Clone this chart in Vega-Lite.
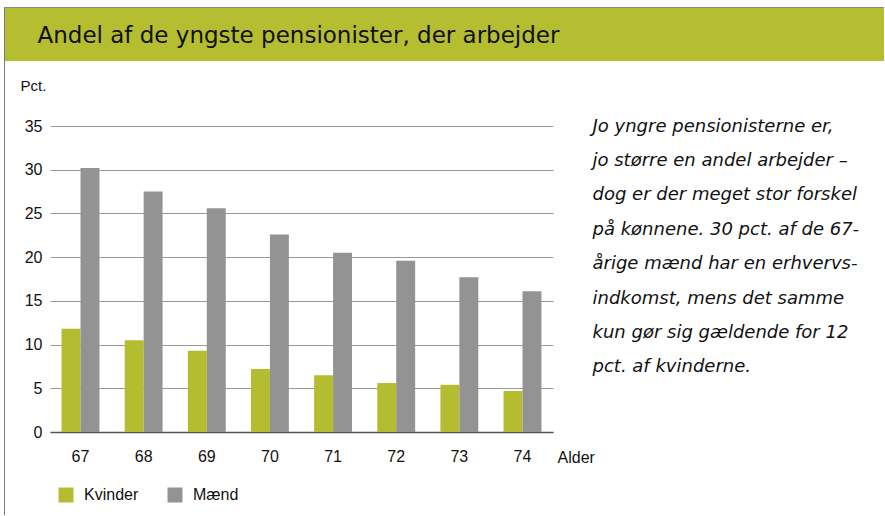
{
  "$schema": "https://vega.github.io/schema/vega-lite/v6.json",
  "background": "white",
  "padding": {"left": 4, "top": 7, "right": 0, "bottom": 0},
  "config": {"view": {"stroke": null}, "font": "Liberation Sans"},
  "spacing": 0,
  "align": "none",
  "hconcat": [
    {"width": 1, "height": 508, "data": {"values": []}, "mark": "point", "view": {"fill": "#7a7a7a", "stroke": null}},
    {
      "spacing": 17,
      "align": "none",
      "vconcat": [
        {
          "width": 879, "height": 54,
          "data": {"values": [{"overskrift": "Andel af de yngste pensionister, der arbejder"}]},
          "mark": {"type": "text", "text": "", "opacity": 0},
          "view": {"fill": "#b5bd31", "stroke": null},
          "encoding": {
            "x": {
              "datum": 0, "type": "quantitative", "scale": {"domain": [-1, 1]},
              "axis": {
                "orient": "top", "title": null, "labels": false, "ticks": false, "grid": false,
                "domain": true, "domainColor": "#8a8a8a", "domainWidth": 1
              }
            },
            "y": {
              "datum": 0, "type": "quantitative", "scale": {"domain": [-1, 1]},
              "axis": {
                "title": "Andel af de yngste pensionister, der arbejder",
                "titleAngle": 0, "titleX": 32, "titleY": 28, "titleAlign": "left", "titleBaseline": "middle",
                "titleFont": "DejaVu Sans", "titleFontSize": 23, "titleFontWeight": "normal", "titleColor": "#111111",
                "labels": false, "ticks": false, "domain": false, "grid": false
              }
            }
          }
        },
        {
          "spacing": 14,
          "align": "none",
          "hconcat": [
            {"width": 1, "height": 1, "data": {"values": []}, "mark": "point"},
            {
              "width": 503,
              "height": 306,
              "data": {"values": [
                {"alder": "67", "koen": "Kvinder", "pct": 11.8},
                {"alder": "67", "koen": "Mænd", "pct": 30.2},
                {"alder": "68", "koen": "Kvinder", "pct": 10.5},
                {"alder": "68", "koen": "Mænd", "pct": 27.5},
                {"alder": "69", "koen": "Kvinder", "pct": 9.3},
                {"alder": "69", "koen": "Mænd", "pct": 25.6},
                {"alder": "70", "koen": "Kvinder", "pct": 7.2},
                {"alder": "70", "koen": "Mænd", "pct": 22.6},
                {"alder": "71", "koen": "Kvinder", "pct": 6.5},
                {"alder": "71", "koen": "Mænd", "pct": 20.5},
                {"alder": "72", "koen": "Kvinder", "pct": 5.6},
                {"alder": "72", "koen": "Mænd", "pct": 19.6},
                {"alder": "73", "koen": "Kvinder", "pct": 5.4},
                {"alder": "73", "koen": "Mænd", "pct": 17.7},
                {"alder": "74", "koen": "Kvinder", "pct": 4.7},
                {"alder": "74", "koen": "Mænd", "pct": 16.1}
              ]},
              "resolve": {"axis": {"y": "independent"}},
              "layer": [
                {
                  "mark": {"type": "bar"},
                  "encoding": {
                    "x": {
                      "field": "alder", "type": "ordinal",
                      "scale": {"paddingInner": 0.4, "paddingOuter": 0.183},
                      "axis": {
                        "title": "Alder", "titleX": 507, "titleY": 17, "titleAlign": "left", "titleBaseline": "top",
                        "titleFontSize": 16, "titleFontWeight": "normal", "titleColor": "#111111",
                        "labelAngle": 0, "ticks": false, "labelPadding": 16, "labelFontSize": 16, "labelColor": "#111111",
                        "domainColor": "#555555", "domainWidth": 1.5
                      }
                    },
                    "xOffset": {"field": "koen", "sort": ["Kvinder", "Mænd"], "scale": {"paddingInner": 0, "paddingOuter": 0}},
                    "y": {
                      "field": "pct", "type": "quantitative",
                      "scale": {"domain": [0, 35], "nice": false},
                      "axis": {
                        "title": "Pct.", "titleAngle": 0, "titleAlign": "left", "titleBaseline": "middle",
                        "titleX": -30, "titleY": -41, "titleFontSize": 15, "titleFontWeight": "normal", "titleColor": "#111111",
                        "values": [0, 5, 10, 15, 20, 25, 30, 35],
                        "ticks": false, "domain": false, "labelPadding": 8, "labelFontSize": 16, "labelColor": "#111111",
                        "gridColor": "#999999", "gridWidth": 1
                      }
                    },
                    "color": {
                      "field": "koen", "type": "nominal",
                      "scale": {"domain": ["Kvinder", "Mænd"], "range": ["#b4bc30", "#939393"]},
                      "legend": {
                        "orient": "none", "legendX": 54, "legendY": 480, "direction": "horizontal", "title": null,
                        "symbolType": "square", "symbolSize": 225, "symbolStrokeWidth": 0, "symbolOpacity": 1,
                        "labelFontSize": 16, "labelOffset": 10, "columnPadding": 28, "padding": 0, "labelColor": "#111111"
                      }
                    }
                  }
                },
                {
                  "mark": {"type": "rule", "strokeOpacity": 0},
                  "encoding": {
                    "y": {
                      "datum": 0, "type": "quantitative",
                      "axis": {
                        "orient": "right",
                        "title": [
                          "Jo yngre pensionisterne er,",
                          "jo større en andel arbejder –",
                          "dog er der meget stor forskel",
                          "på kønnene. 30 pct. af de 67-",
                          "årige mænd har en erhvervs-",
                          "indkomst, mens det samme",
                          "kun gør sig gældende for 12",
                          "pct. af kvinderne."
                        ],
                        "titleAngle": 0, "titleX": 39, "titleY": -9, "titleAlign": "left", "titleBaseline": "top",
                        "titleLineHeight": 34.4,
                        "titleFont": "DejaVu Sans", "titleFontSize": 18, "titleFontStyle": "italic", "titleFontWeight": "normal", "titleColor": "#111111",
                        "labels": false, "ticks": false, "domain": false, "grid": false
                      }
                    }
                  }
                }
              ]
            }
          ]
        }
      ]
    }
  ]
}
